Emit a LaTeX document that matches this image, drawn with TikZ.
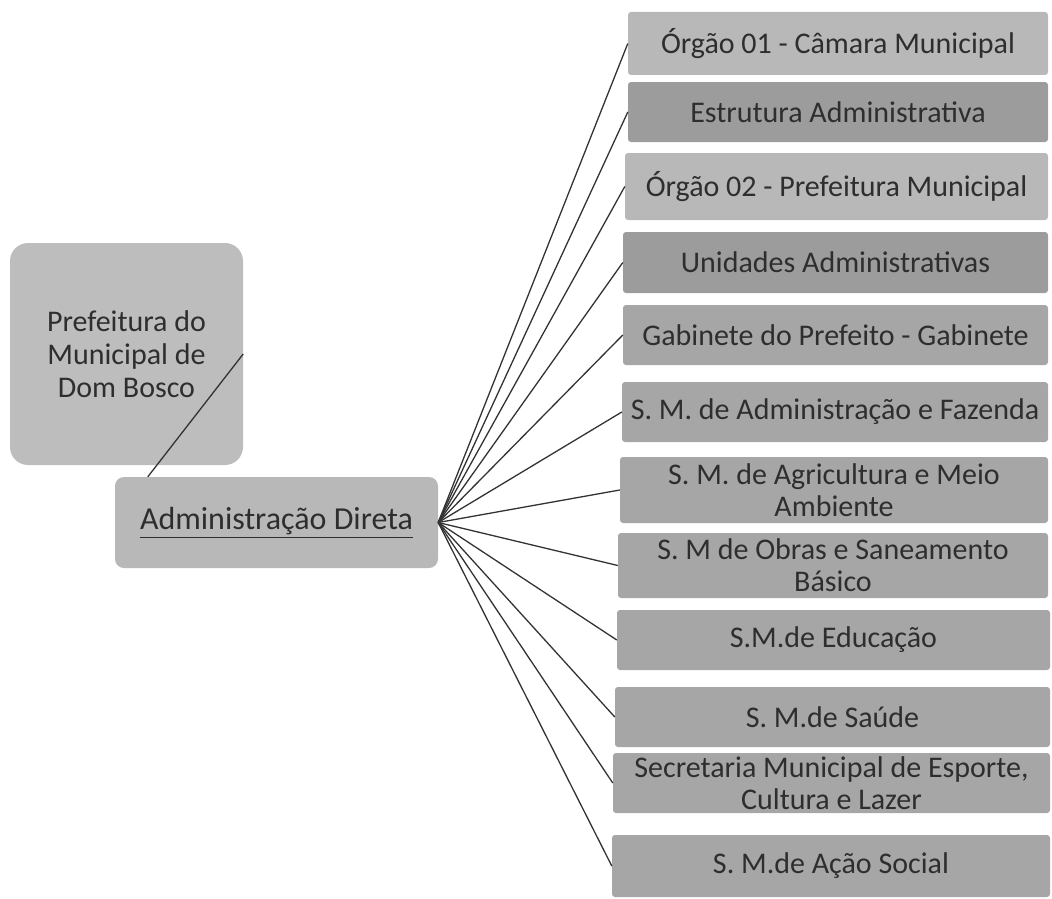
\documentclass[tikz,border=0pt]{standalone}
\usepackage{fontspec}
\setmainfont{Carlito}
\usetikzlibrary{calc}
\definecolor{boxlight}{HTML}{B8B8B8}
\definecolor{boxdark}{HTML}{9C9C9C}
\definecolor{boxmid}{HTML}{A6A6A6}
\definecolor{boxleft}{HTML}{BDBDBD}
\definecolor{txt}{HTML}{2E2E2E}
\definecolor{ln}{HTML}{333333}
\begin{document}
\begin{tikzpicture}[x=1pt,y=-1pt,
  base/.style={inner sep=0pt,align=center,text=txt,font=\fontsize{30}{32}\selectfont},
  rbox/.style={base,rectangle,rounded corners=3pt},
  conn/.style={draw=ln,line width=1.3pt}]
\useasboundingbox (0,0) rectangle (1052,899);
\newcommand\rbx[7]{%
  \node[rbox,fill=#6,minimum width={#4-#2},minimum height={#5-#3}] (#1) at ({(#2+#4)/2},{(#3+#5)/2}) {#7};}
\rbx{r1}{628}{12}{1048}{75}{boxlight}{Órgão 01 - Câmara Municipal}
\rbx{r2}{628}{82}{1048}{142}{boxdark}{Estrutura Administrativa}
\rbx{r3}{625}{153}{1048}{220}{boxlight}{Órgão 02 - Prefeitura Municipal}
\rbx{r4}{623}{232}{1048}{293}{boxdark}{Unidades Administrativas}
\rbx{r5}{623}{305}{1048}{365}{boxmid}{Gabinete do Prefeito - Gabinete}
\rbx{r6}{622}{382}{1048}{442}{boxmid}{S. M. de Administração e Fazenda}
\rbx{r7}{620}{457}{1048}{523}{boxmid}{S. M. de Agricultura e Meio\\Ambiente}
\rbx{r8}{618}{533}{1048}{598}{boxmid}{S. M de Obras e Saneamento\\Básico}
\rbx{r9}{617}{610}{1050}{670}{boxmid}{S.M.de Educação}
\rbx{r10}{615}{687}{1050}{747}{boxmid}{S. M.de Saúde}
\rbx{r11}{613}{753}{1050}{813}{boxmid}{Secretaria Municipal de Esporte,\\Cultura e Lazer}
\rbx{r12}{612}{835}{1050}{897}{boxmid}{S. M.de Ação Social}
\node[base,fill=boxleft,rounded corners=18pt,minimum width=233pt,minimum height=222pt,font=\fontsize{30}{33}\selectfont] (pref) at (126.5,354) {Prefeitura do\\Municipal de\\Dom Bosco};
\node[base,fill=boxlight,rounded corners=9pt,minimum width=323pt,minimum height=91pt,font=\fontsize{32}{34}\selectfont] (adm) at (276.5,522.5) {\underline{Administração Direta}};
\draw[conn] (pref.east) -- ([xshift=33pt]adm.north west);
\foreach \i in {1,...,12} \draw[conn] (adm.east) -- (r\i.west);
\end{tikzpicture}
\end{document}
